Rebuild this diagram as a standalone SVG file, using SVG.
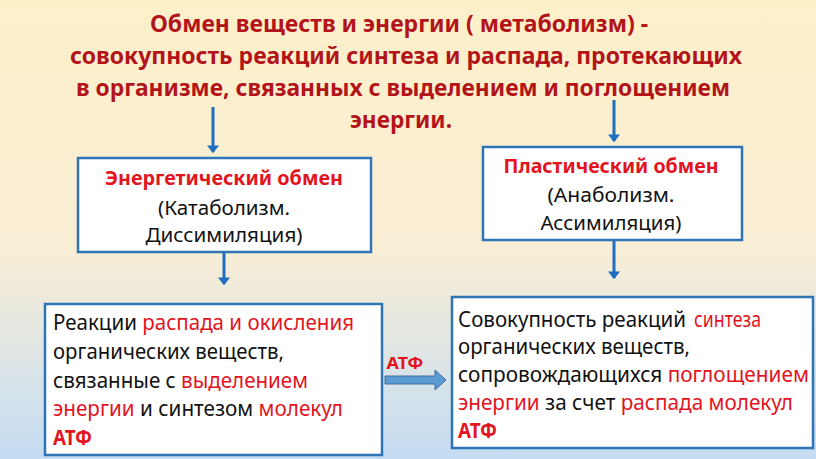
<svg xmlns="http://www.w3.org/2000/svg" width="816" height="459" viewBox="0 0 816 459">
<style>
.title{font-family:"Noto Sans","Open Sans",sans-serif;font-weight:bold;font-size:23.5px;fill:#B3141A;text-anchor:middle}
.box{fill:#FFFFFF;stroke:#2E75B6;stroke-width:2.5}
.hd{font-family:"Noto Sans","Open Sans",sans-serif;font-weight:bold;font-size:19px;fill:#E3141E;text-anchor:middle}
.sub{font-family:"Noto Sans","Open Sans",sans-serif;font-size:20.5px;fill:#111111;text-anchor:middle}
.body{font-family:"Noto Sans","Open Sans",sans-serif;font-size:21px;fill:#111111}
.r{fill:#E3141E}
.b{font-weight:bold}
.conn{stroke:#1F6EC0;stroke-width:3;fill:none}
</style>
<defs>
<linearGradient id="bg" x1="0" y1="0" x2="0" y2="1">
<stop offset="0" stop-color="#FDF0C9"/>
<stop offset="0.55" stop-color="#F8EED6"/>
<stop offset="1" stop-color="#C4DCF3"/>
</linearGradient>
<marker id="ah" markerWidth="4" markerHeight="4" refX="2.2" refY="2" orient="auto" markerUnits="strokeWidth">
<path d="M0,0 L2.6,2 L0,4 Z" fill="#1F6EC0"/>
</marker>
</defs>
<rect x="0" y="0" width="816" height="459" fill="url(#bg)"/>

<g id="title">
<text class="title" x="399" y="32" textLength="498" lengthAdjust="spacingAndGlyphs">Обмен веществ и энергии ( метаболизм)  -</text>
<text class="title" x="406" y="64" textLength="672" lengthAdjust="spacingAndGlyphs">совокупность реакций синтеза и распада, протекающих</text>
<text class="title" x="403" y="96" textLength="654" lengthAdjust="spacingAndGlyphs">в организме, связанных с выделением и поглощением</text>
<text class="title" x="401" y="128" textLength="102" lengthAdjust="spacingAndGlyphs">энергии.</text>
</g>

<g id="connectors">
<line class="conn" x1="213" y1="107" x2="213" y2="152" marker-end="url(#ah)"/>
<line class="conn" x1="614" y1="100" x2="614" y2="141" marker-end="url(#ah)"/>
<line class="conn" x1="224" y1="253" x2="224" y2="284" marker-end="url(#ah)"/>
<line class="conn" x1="614" y1="241" x2="614" y2="278" marker-end="url(#ah)"/>
<path d="M385,376 L435,376 L435,370 L446,380 L435,390 L435,384 L385,384 Z" fill="#5B9BD5" stroke="#41719C" stroke-width="1"/>
<text x="405" y="369" font-family="'Noto Sans','Open Sans',sans-serif" font-weight="bold" font-size="16.5" fill="#E3141E" text-anchor="middle" textLength="37" lengthAdjust="spacingAndGlyphs">АТФ</text>
</g>

<g id="energy">
<rect class="box" x="78" y="158" width="293" height="94"/>
<text class="hd" x="224" y="185" textLength="238" lengthAdjust="spacingAndGlyphs">Энергетический обмен</text>
<text class="sub" x="224" y="215" textLength="132" lengthAdjust="spacingAndGlyphs">(Катаболизм.</text>
<text class="sub" x="224" y="242" textLength="157" lengthAdjust="spacingAndGlyphs">Диссимиляция)</text>
</g>

<g id="plastic">
<rect class="box" x="483" y="147" width="259" height="93"/>
<text class="hd" x="611" y="173" textLength="215" lengthAdjust="spacingAndGlyphs">Пластический обмен</text>
<text class="sub" x="611" y="202" textLength="127" lengthAdjust="spacingAndGlyphs">(Анаболизм.</text>
<text class="sub" x="611" y="230" textLength="141" lengthAdjust="spacingAndGlyphs">Ассимиляция)</text>
</g>

<g id="catabolism">
<rect class="box" x="45" y="304" width="337" height="151"/>
<text class="body" x="53" y="330" textLength="301" lengthAdjust="spacingAndGlyphs">Реакции <tspan class="r">распада и окисления</tspan></text>
<text class="body" x="53" y="359" textLength="231" lengthAdjust="spacingAndGlyphs">органических веществ,</text>
<text class="body" x="53" y="388" textLength="255" lengthAdjust="spacingAndGlyphs">связанные с <tspan class="r">выделением</tspan></text>
<text class="body" x="53" y="416" textLength="290" lengthAdjust="spacingAndGlyphs"><tspan class="r">энергии</tspan> и синтезом <tspan class="r">молекул</tspan></text>
<text class="body r b" x="53" y="445" textLength="39" lengthAdjust="spacingAndGlyphs">АТФ</text>
</g>

<g id="anabolism">
<rect class="box" x="452" y="297" width="361" height="151"/>
<text class="body" x="458" y="327" textLength="228" lengthAdjust="spacingAndGlyphs">Совокупность реакций</text>
<text class="body r" x="694" y="327" textLength="67" lengthAdjust="spacingAndGlyphs">синтеза</text>
<text class="body" x="458" y="354" textLength="232" lengthAdjust="spacingAndGlyphs">органических веществ,</text>
<text class="body" x="458" y="382" textLength="351" lengthAdjust="spacingAndGlyphs">сопровождающихся <tspan class="r">поглощением</tspan></text>
<text class="body" x="458" y="410" textLength="335" lengthAdjust="spacingAndGlyphs"><tspan class="r">энергии</tspan> за счет <tspan class="r">распада молекул</tspan></text>
<text class="body r b" x="458" y="438" textLength="39" lengthAdjust="spacingAndGlyphs">АТФ</text>
</g>
</svg>
